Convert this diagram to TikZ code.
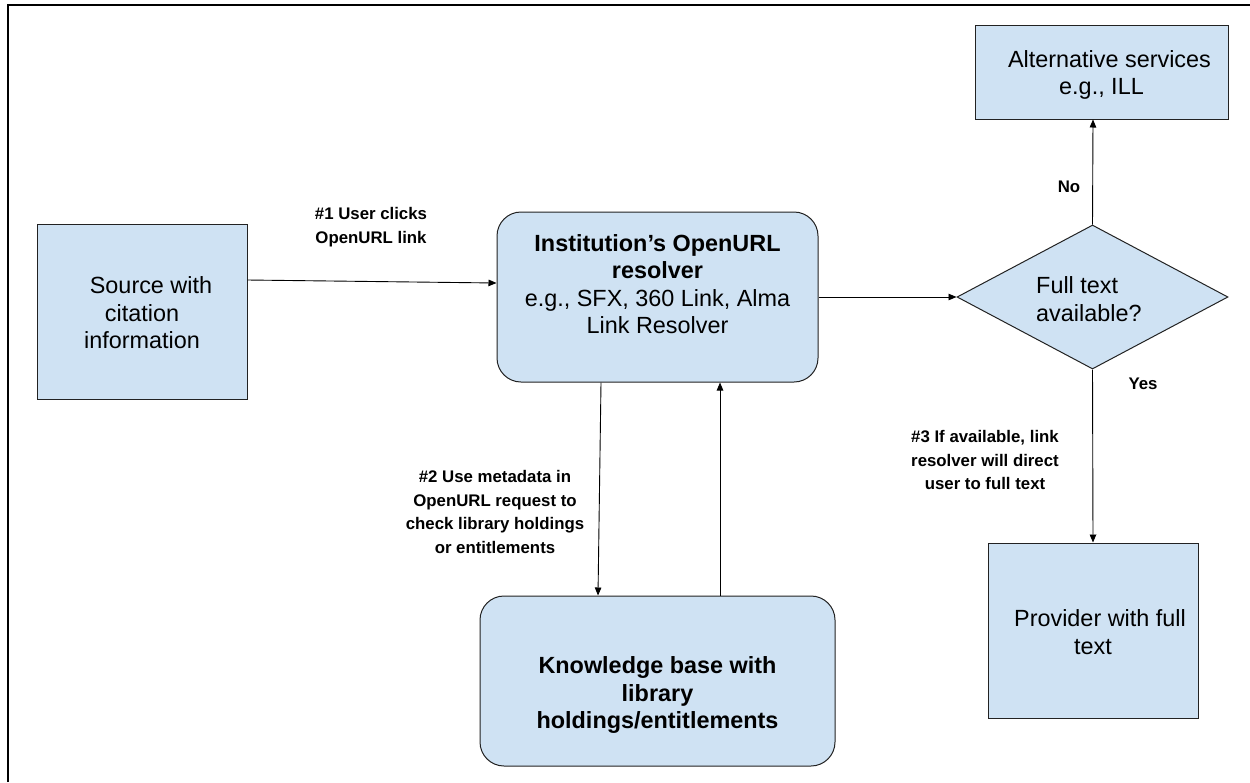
\documentclass[tikz,border=0pt]{standalone}
\usepackage{fontspec}
\setmainfont{Liberation Sans}
\usetikzlibrary{arrows.meta,shapes.geometric,calc}
\definecolor{boxblue}{HTML}{CFE2F3}
\definecolor{edge}{HTML}{222222}
\begin{document}
\begin{tikzpicture}[x=1pt,y=-1pt,
  box/.style={draw=edge,line width=1pt,fill=boxblue,inner sep=0pt},
  rbox/.style={box,rounded corners=24pt},
  dia/.style={box,diamond,aspect=1.88},
  maintxt/.style={align=center,inner sep=0pt,font=\fontsize{23.4}{27.5}\selectfont},
  lbl/.style={align=center,inner sep=0pt,font=\fontsize{16.8}{23.5}\selectfont\bfseries},
  arr/.style={draw=black,line width=0.9pt,-{Triangle[length=8pt,width=6.5pt]}}]
\useasboundingbox (0,0) rectangle (1250,782);
% frame (top and left edges)
\coordinate (fa) at (8,782);
\coordinate (fb) at (8,5);
\coordinate (fc) at (1250,5);
\draw[line width=1.5pt] (fa) -- (fb) -- (fc);

% nodes
\node[box,minimum width=210pt,minimum height=175pt] (src) at (142,311.5) {};
\node[maintxt] (srct) at (142,313) {\hspace*{18pt}Source with\\citation\\information};

\node[rbox,minimum width=321pt,minimum height=170pt] (inst) at (657.5,297) {};
\node[maintxt] (instt) at (657.5,284) {\textbf{Institution’s OpenURL}\\\textbf{resolver}\\e.g., SFX, 360 Link, Alma\\Link Resolver};

\node[dia,minimum width=271pt,minimum height=144pt] (dec) at (1092.5,297) {};
\node[maintxt,align=left,anchor=west] (dect) at (1036,299) {Full text\\available?};

\node[box,minimum width=253pt,minimum height=94pt] (alt) at (1101.5,72) {};
\node[maintxt] (altt) at (1101.5,75) {\hspace*{16pt}Alternative services\\e.g., ILL};

\node[box,minimum width=210pt,minimum height=175pt] (prov) at (1093,630.5) {};
\node[maintxt] (provt) at (1093,632) {\hspace*{14pt}Provider with full\\text};

\node[rbox,minimum width=355pt,minimum height=170pt] (kb) at (657.5,681) {};
\node[maintxt] (kbt) at (657.5,695) {\textbf{Knowledge base with}\\\textbf{library}\\\textbf{holdings/entitlements}};

% connectors
\draw[arr] ([yshift=31.5pt]src.east) -- ([yshift=14pt]inst.west);
\draw[arr] (inst.east) -- (dec.west);
\draw[arr] (dec.north) -- ([xshift=-8.5pt]alt.south);
\draw[arr] (dec.south) -- (prov.north);
\draw[arr] ([xshift=-56.5pt]inst.south) -- ([xshift=-59.5pt]kb.north);
\draw[arr] ([xshift=62.5pt]kb.north) -- ([xshift=62.5pt]inst.south);

% labels
\node[lbl] (l1) at (371,227) {\#1 User clicks\\OpenURL link};
\node[lbl] (l2) at (495,512) {\#2 Use metadata in\\OpenURL request to\\check library holdings\\or entitlements};
\node[lbl] (l3) at (985,460) {\#3 If available, link\\resolver will direct\\user to full text};
\node[lbl] (lno) at (1069,187) {No};
\node[lbl] (lyes) at (1143,384) {Yes};
\end{tikzpicture}
\end{document}
